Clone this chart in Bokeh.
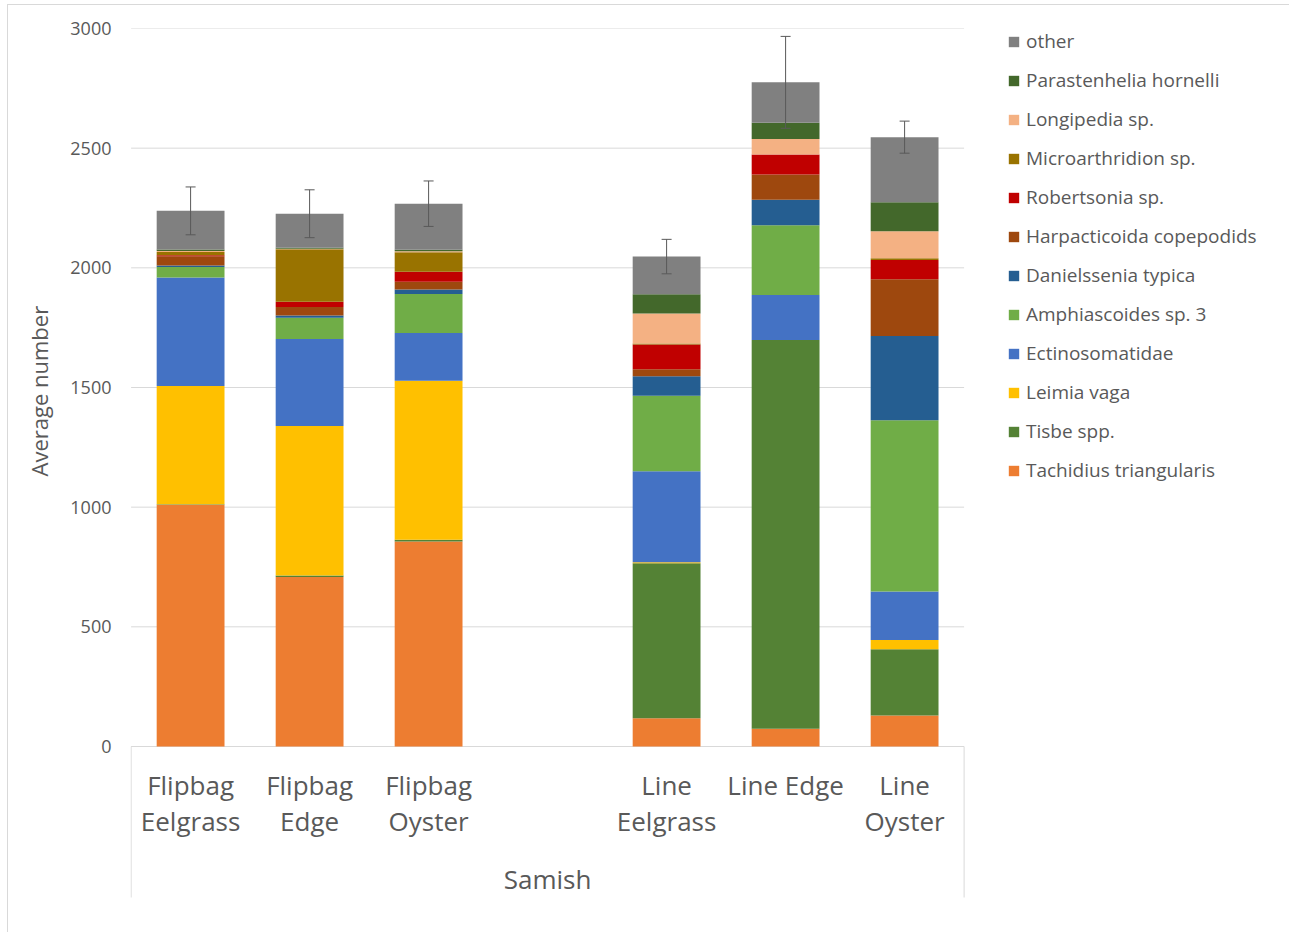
from bokeh.plotting import figure
from bokeh.models import (ColumnDataSource, Range1d, FixedTicker, Legend, LegendItem,
                          Whisker, TeeHead, Title)
from bokeh.core.properties import value
from bokeh.embed import file_html
from bokeh.resources import INLINE

# ---------------- data ----------------
sites = ["Flipbag Eelgrass", "Flipbag Edge", "Flipbag Oyster",
         "Line Eelgrass", "Line Edge", "Line Oyster"]
site_labels = ["Flipbag\nEelgrass", "Flipbag\nEdge", "Flipbag\nOyster",
               "Line\nEelgrass", "Line Edge", "Line\nOyster"]
site_groups = ["Flipbag", "Flipbag", "Flipbag", "Line", "Line", "Line"]
region = "Samish"

species = ["Tachidius triangularis", "Tisbe spp.", "Leimia vaga", "Ectinosomatidae",
           "Amphiascoides sp. 3", "Danielssenia typica", "Harpacticoida copepodids",
           "Robertsonia sp.", "Microarthridion sp.", "Longipedia sp.",
           "Parastenhelia hornelli", "other"]

tachidius = [1010, 708, 857, 118, 74, 130]
tisbe = [2, 7, 7, 648, 1624, 276]
leimia = [494, 624, 664, 4, 0, 39]
ectinosomatidae = [454, 364, 200, 380, 189, 203]
amphiascoides = [43, 88, 163, 316, 291, 715]
danielssenia = [7, 10, 18, 81, 106, 352]
harpacticoida = [38, 35, 33, 29, 106, 237]
robertsonia = [5, 22, 42, 104, 84, 81]
microarthridion = [13, 220, 81, 4, 0, 7]
longipedia = [4, 2, 4, 125, 64, 113]
parastenhelia = [7, 4, 7, 81, 68, 121]
other = [161, 142, 192, 157, 169, 272]
error = [100, 100, 95, 72, 192, 67]

y_ticks = [0, 500, 1000, 1500, 2000, 2500, 3000]

colors = ["#ED7D31", "#548235", "#FFC000", "#4472C4", "#70AD47", "#255E91",
          "#9E480E", "#C00000", "#997300", "#F4B183", "#43682B", "#808080"]

# ---------------- layout helpers ----------------
series = [tachidius, tisbe, leimia, ectinosomatidae, amphiascoides, danielssenia,
          harpacticoida, robertsonia, microarthridion, longipedia, parastenhelia, other]

group_order = []
for g in site_groups:
    if g not in group_order:
        group_order.append(g)
# one empty slot between groups
xs = []
for i, g in enumerate(site_groups):
    xs.append(i + group_order.index(g) + 0.5)
n_slots = len(sites) + len(group_order) - 1

# chart box starts at (8, 5) on the page, with a thin border on its left/top
box_x, box_y = 7, 4
cx0, cy0 = box_x + 1, box_y + 1
W, H = 1290 - cx0, 933 - cy0
left_px, top_px = 130 - cx0, 28 - cy0
plot_w = 833               # pixels used by the category slots
plot_h = 718               # pixels for 0..3000
cat_px = 151               # depth of the category-axis box
frame_bottom = 925 - cy0
frame_w = W - left_px
frame_h = frame_bottom - top_px

units_per_px = (y_ticks[-1] - y_ticks[0]) / plot_h
slot_per_px = n_slots / plot_w
pad_x = 0.6 * slot_per_px
y_start = -(frame_h - plot_h) * units_per_px
cat_bottom = -cat_px * units_per_px

data = {"x": xs}
for name, vals in zip(species, series):
    data[name] = vals
src = ColumnDataSource(data)

totals = [sum(v) for v in zip(*series)]
err_src = ColumnDataSource(dict(x=xs,
                                upper=[t + e for t, e in zip(totals, error)],
                                lower=[t - e for t, e in zip(totals, error)]))

p = figure(width=W, height=H, output_backend="svg", toolbar_location=None,
           x_range=Range1d(-pad_x, frame_w * slot_per_px - pad_x),
           y_range=Range1d(y_start, y_ticks[-1]),
           min_border_left=left_px, min_border_right=0, min_border_top=top_px,
           min_border_bottom=H - frame_bottom)
p.margin = (box_y, 0, 0, box_x)
p.styles = {"border-left": "1px solid #d9d9d9", "border-top": "1px solid #d9d9d9"}
p.outline_line_color = None
p.background_fill_color = "white"
p.border_fill_color = "white"

p.xaxis.visible = False
p.xgrid.visible = False
p.ygrid.visible = False

p.yaxis.ticker = FixedTicker(ticks=y_ticks)
p.yaxis.axis_line_color = None
p.yaxis.major_tick_line_color = None
p.yaxis.minor_tick_line_color = None
p.yaxis.major_tick_out = 0
p.yaxis.major_tick_in = 0
p.yaxis.major_label_standoff = 19
p.yaxis.major_label_text_font = "Open Sans"
p.yaxis.major_label_text_font_size = "18px"
p.yaxis.major_label_text_color = "#595959"

# horizontal gridlines (limited to the category slots, as in the source chart)
p.segment(x0=[0] * len(y_ticks), x1=[n_slots] * len(y_ticks), y0=y_ticks, y1=y_ticks,
          line_color="#d9d9d9", line_width=1)

renderers = p.vbar_stack(species, x="x", width=0.57, source=src,
                         fill_color=colors, line_color=None)

# error bars
whisk = Whisker(base="x", upper="upper", lower="lower", source=err_src,
                line_color="#595959", line_width=1, level="overlay",
                upper_head=TeeHead(size=10, line_color="#595959", line_width=1),
                lower_head=TeeHead(size=10, line_color="#595959", line_width=1))
p.add_layout(whisk)

# category-axis divider lines
p.segment(x0=[0, n_slots], y0=[cat_bottom, cat_bottom], x1=[0, n_slots], y1=[0, 0],
          line_color="#d9d9d9", line_width=1)

# category labels
line1 = [lab.split("\n")[0] for lab in site_labels]
p.text(x=xs, y=[0] * len(xs), text=line1, y_offset=38,
       text_align="center", text_baseline="alphabetic",
       text_font=value("Open Sans"), text_font_size="26px", text_color="#595959")
x2 = [x for x, lab in zip(xs, site_labels) if "\n" in lab]
line2 = [lab.split("\n")[1] for lab in site_labels if "\n" in lab]
p.text(x=x2, y=[0] * len(x2), text=line2, y_offset=74,
       text_align="center", text_baseline="alphabetic",
       text_font=value("Open Sans"), text_font_size="26px", text_color="#595959")
p.text(x=[n_slots / 2], y=[0], text=[region], y_offset=132,
       text_align="center", text_baseline="alphabetic",
       text_font=value("Open Sans"), text_font_size="26px", text_color="#595959")

# y axis title
p.add_layout(Title(text="Average number", align="left", offset=frame_bottom - (476 - cy0),
                   standoff=27, text_font="Open Sans", text_font_size="22px",
                   text_font_style="normal", text_color="#595959"), "left")

# legend (right of the category slots)
items = [LegendItem(label=name, renderers=[r])
         for name, r in reversed(list(zip(species, renderers)))]
legend_h = len(items) * 26 + (len(items) - 1) * 13
legend = Legend(items=items, location=(877, frame_h - legend_h), orientation="vertical",
                glyph_width=13, glyph_height=13, label_height=26, spacing=13,
                label_standoff=6, padding=0, margin=0,
                border_line_color=None, background_fill_alpha=0,
                label_text_font="Open Sans", label_text_font_size="19px",
                label_text_color="#595959")
p.add_layout(legend)

open("out.html", "w").write(file_html(p, INLINE))
